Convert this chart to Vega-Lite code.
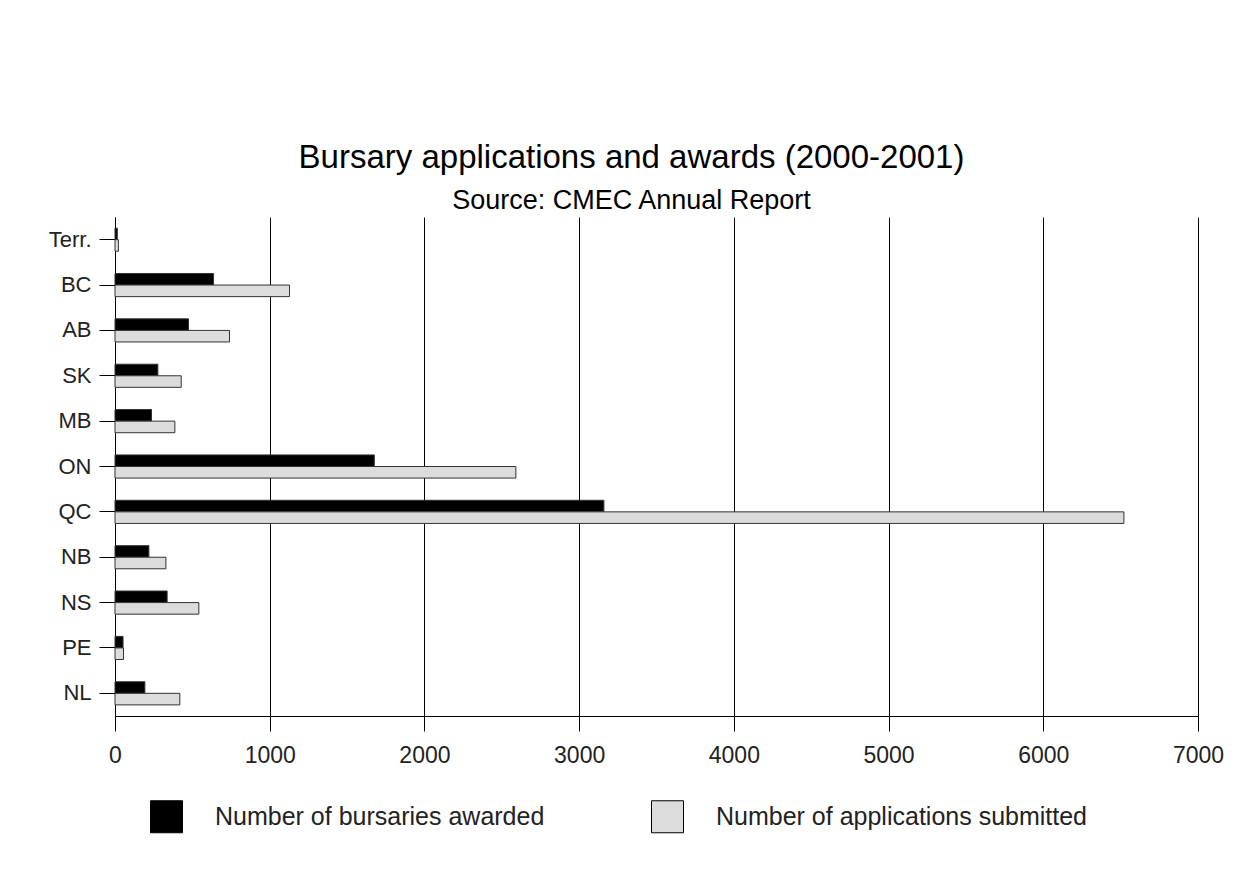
{
  "$schema": "https://vega.github.io/schema/vega-lite/v6.json",
  "width": 1083,
  "height": 499,
  "autosize": "none",
  "padding": {"left": 115, "top": 217, "right": 52, "bottom": 162},
  "background": "white",
  "title": {
    "text": "Bursary applications and awards (2000-2001)",
    "subtitle": "Source: CMEC Annual Report",
    "anchor": "middle",
    "dx": -25,
    "font": "Liberation Sans",
    "fontSize": 33,
    "fontWeight": "normal",
    "color": "#000",
    "subtitleFont": "Liberation Sans",
    "subtitleFontSize": 27,
    "subtitleColor": "#000",
    "subtitlePadding": 13,
    "offset": 3
  },
  "config": {
    "view": {"stroke": null},
    "axis": {
      "labelFont": "Liberation Sans",
      "labelColor": "#222",
      "domainColor": "#000",
      "tickColor": "#000",
      "gridColor": "#000",
      "gridOpacity": 1,
      "domainWidth": 1,
      "tickWidth": 1
    }
  },
  "data": {
    "values": [
      {"region": "Terr.", "series": "Number of bursaries awarded", "value": 15},
      {"region": "Terr.", "series": "Number of applications submitted", "value": 22},
      {"region": "BC", "series": "Number of bursaries awarded", "value": 637},
      {"region": "BC", "series": "Number of applications submitted", "value": 1128},
      {"region": "AB", "series": "Number of bursaries awarded", "value": 475},
      {"region": "AB", "series": "Number of applications submitted", "value": 740},
      {"region": "SK", "series": "Number of bursaries awarded", "value": 277},
      {"region": "SK", "series": "Number of applications submitted", "value": 428},
      {"region": "MB", "series": "Number of bursaries awarded", "value": 236},
      {"region": "MB", "series": "Number of applications submitted", "value": 387},
      {"region": "ON", "series": "Number of bursaries awarded", "value": 1676},
      {"region": "ON", "series": "Number of applications submitted", "value": 2591},
      {"region": "QC", "series": "Number of bursaries awarded", "value": 3160},
      {"region": "QC", "series": "Number of applications submitted", "value": 6521},
      {"region": "NB", "series": "Number of bursaries awarded", "value": 219},
      {"region": "NB", "series": "Number of applications submitted", "value": 329},
      {"region": "NS", "series": "Number of bursaries awarded", "value": 337},
      {"region": "NS", "series": "Number of applications submitted", "value": 542},
      {"region": "PE", "series": "Number of bursaries awarded", "value": 52},
      {"region": "PE", "series": "Number of applications submitted", "value": 55},
      {"region": "NL", "series": "Number of bursaries awarded", "value": 193},
      {"region": "NL", "series": "Number of applications submitted", "value": 419}
    ]
  },
  "mark": {"type": "bar", "stroke": "#333", "strokeWidth": 1},
  "encoding": {
    "y": {
      "field": "region",
      "type": "nominal",
      "sort": ["Terr.", "BC", "AB", "SK", "MB", "ON", "QC", "NB", "NS", "PE", "NL"],
      "scale": {"paddingInner": 0.49, "paddingOuter": 0.245},
      "axis": {
        "title": null,
        "labelFontSize": 22,
        "tickSize": 16,
        "labelPadding": 8,
        "grid": false,
        "domain": true
      }
    },
    "yOffset": {
      "field": "series",
      "type": "nominal",
      "sort": ["Number of bursaries awarded", "Number of applications submitted"]
    },
    "x": {
      "field": "value",
      "type": "quantitative",
      "scale": {"domain": [0, 7000], "nice": false},
      "axis": {
        "title": null,
        "values": [0, 1000, 2000, 3000, 4000, 5000, 6000, 7000],
        "format": "d",
        "grid": true,
        "labelFlush": false,
        "labelFontSize": 23,
        "tickSize": 15,
        "labelPadding": 13,
        "domain": true
      }
    },
    "fill": {
      "field": "series",
      "type": "nominal",
      "sort": ["Number of bursaries awarded", "Number of applications submitted"],
      "scale": {
        "domain": ["Number of bursaries awarded", "Number of applications submitted"],
        "range": ["#000000", "#dcdcdc"]
      },
      "legend": {
        "title": null,
        "orient": "none",
        "legendX": 35,
        "legendY": 583,
        "direction": "horizontal",
        "symbolType": "square",
        "symbolSize": 1024,
        "symbolStrokeColor": "#000",
        "symbolStrokeWidth": 1,
        "labelFont": "Liberation Sans",
        "labelFontSize": 25,
        "labelColor": "#222",
        "labelOffset": 32,
        "columnPadding": 104,
        "labelLimit": 500
      }
    }
  }
}
